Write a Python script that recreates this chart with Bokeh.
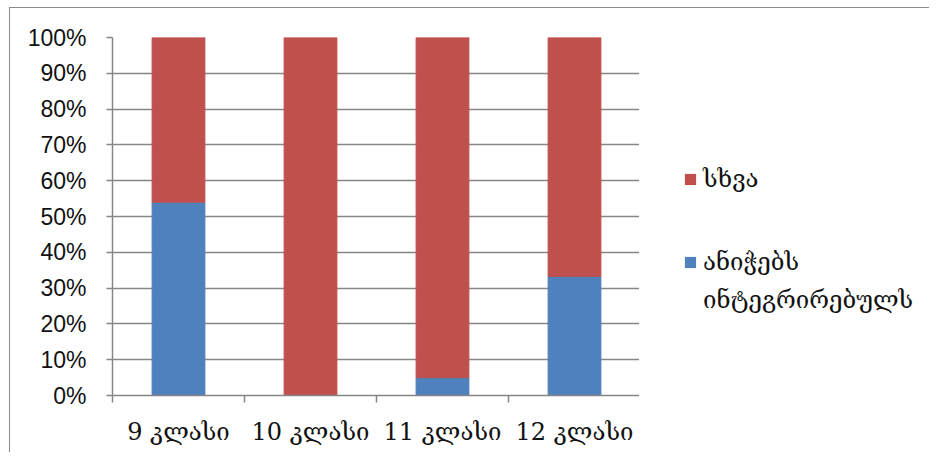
from bokeh.plotting import figure
from bokeh.layouts import row
from bokeh.models import (ColumnDataSource, FixedTicker, NumeralTickFormatter,
                          Legend, LegendItem, Range1d)
from bokeh.embed import file_html
from bokeh.resources import INLINE

categories = ["9 კლასი", "10 კლასი", "11 კლასი", "12 კლასი"]
integrated = [0.54, 0.0, 0.05, 0.333]   # ანიჭებს ინტეგრირებულს
other = [0.46, 1.0, 0.95, 0.667]        # სხვა
y_ticks = [0.0, 0.1, 0.2, 0.3, 0.4, 0.5, 0.6, 0.7, 0.8, 0.9, 1.0]

label_other = "სხვა"
label_integrated_1 = "ანიჭებს"
label_integrated_2 = "ინტეგრირებულს"

BLUE = "#4F81BD"
RED = "#C0504D"
GRAY = "#868686"
TEXT = "#111111"
GEO_FONT = "DejaVu Serif"

xpos = [i + 0.5 for i in range(len(categories))]
source = ColumnDataSource(dict(
    x=xpos, integrated=integrated, other=other,
    top_int=integrated,
    top_other=[a + b for a, b in zip(integrated, other)],
))

# ---- main chart ----
p = figure(width=630, height=445, output_backend="svg", toolbar_location=None,
           x_range=Range1d(0, len(categories)), y_range=Range1d(0, 1),
           min_border_left=102, min_border_top=29, min_border_bottom=58,
           min_border_right=0)
p.outline_line_color = None
p.styles = {"border-top": "1px solid #8a8a8a", "border-left": "1px solid #8a8a8a",
            "margin-left": "9px", "margin-top": "7px"}

p.vbar(x="x", bottom=0, top="top_int", width=0.4, color=BLUE,
       line_color=BLUE, source=source)
p.vbar(x="x", bottom="top_int", top="top_other", width=0.4, color=RED,
       line_color=RED, source=source)

p.yaxis.ticker = FixedTicker(ticks=y_ticks)
p.yaxis.formatter = NumeralTickFormatter(format="0%")
p.yaxis.axis_line_color = GRAY
p.yaxis.axis_line_width = 1.5
p.yaxis.major_tick_line_color = GRAY
p.yaxis.major_tick_line_width = 1.5
p.yaxis.major_tick_out = 6
p.yaxis.major_tick_in = 0
p.yaxis.minor_tick_line_color = None
p.yaxis.major_label_standoff = 20
p.yaxis.major_label_text_font = "Liberation Sans"
p.yaxis.major_label_text_font_size = "23px"
p.yaxis.major_label_text_color = TEXT

p.xaxis.ticker = FixedTicker(ticks=xpos, minor_ticks=list(range(len(categories) + 1)))
p.xaxis.major_label_overrides = {x: c for x, c in zip(xpos, categories)}
p.xaxis.axis_line_color = GRAY
p.xaxis.axis_line_width = 1.5
p.xaxis.major_tick_line_color = None
p.xaxis.major_tick_out = 7
p.xaxis.major_tick_in = 0
p.xaxis.minor_tick_line_color = GRAY
p.xaxis.minor_tick_line_width = 1.5
p.xaxis.minor_tick_out = 7
p.xaxis.minor_tick_in = 0
p.xaxis.major_label_standoff = 15
p.xaxis.major_label_text_font = GEO_FONT
p.xaxis.major_label_text_font_size = "24px"
p.xaxis.major_label_text_color = TEXT

p.xgrid.grid_line_color = None
p.ygrid.ticker = FixedTicker(ticks=y_ticks)
p.ygrid.grid_line_color = GRAY
p.ygrid.grid_line_width = 1.5

# ---- legend panel ----
q = figure(width=290, height=445, output_backend="svg", toolbar_location=None,
           x_range=Range1d(0, 1), y_range=Range1d(0, 1),
           x_axis_type=None, y_axis_type=None, min_border=0)
q.outline_line_color = None
q.grid.grid_line_color = None
q.styles = {"border-top": "1px solid #8a8a8a", "margin-top": "7px"}
# zero-height keys: nothing is drawn in the panel, only their legend swatches
key = dict(x=[0], top=[0])
lg_red = q.vbar(x="x", top="top", bottom=0, width=0.1, fill_color=RED, line_color=None,
                source=ColumnDataSource(key))
lg_blue = q.vbar(x="x", top="top", bottom=0, width=0.1, fill_color=BLUE, line_color=None,
                 source=ColumnDataSource(key))
lg_none = q.vbar(x="x", top="top", bottom=0, width=0.1, fill_alpha=0, line_color=None,
                 source=ColumnDataSource(key))


def style(lg):
    lg.glyph_width = 14
    lg.glyph_height = 14
    lg.label_text_font = GEO_FONT
    lg.label_text_font_size = "24px"
    lg.label_text_color = TEXT
    lg.padding = 0
    lg.margin = 0
    lg.border_line_color = None
    lg.background_fill_alpha = 0
    lg.label_standoff = 6
    lg.label_height = 14


leg1 = Legend(items=[LegendItem(label=label_other, renderers=[lg_red])],
              location=(44, 202))
style(leg1)
leg2 = Legend(items=[LegendItem(label=label_integrated_1, renderers=[lg_blue]),
                     LegendItem(label=label_integrated_2, renderers=[lg_none])],
              location=(44, 81))
style(leg2)
leg2.spacing = 10
q.add_layout(leg1, "center")
q.add_layout(leg2, "center")

layout = row(p, q)

open("out.html", "w").write(file_html(layout, INLINE))
